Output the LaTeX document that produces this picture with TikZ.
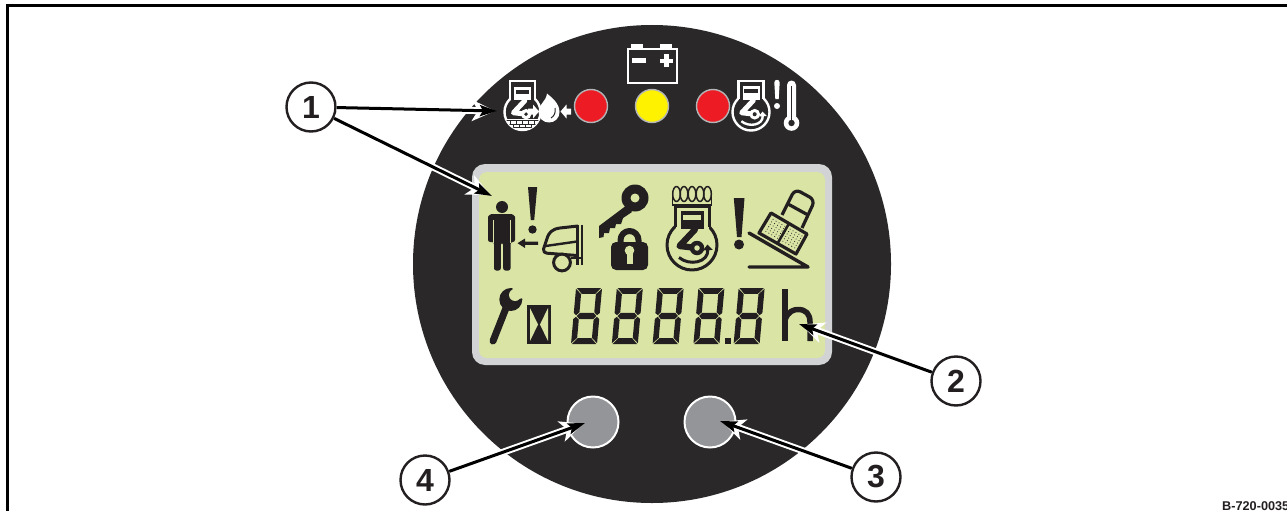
\documentclass[tikz,border=0pt]{standalone}
\usepackage{fontspec}
\setmainfont{Liberation Sans}
\usetikzlibrary{arrows.meta}
\definecolor{ink}{HTML}{231F20}
\definecolor{panel}{HTML}{2A2829}
\definecolor{lcd}{HTML}{DAE5A5}
\definecolor{bezel}{HTML}{D1D3D4}
\definecolor{knob}{HTML}{939598}
\definecolor{ledred}{HTML}{ED1C24}
\definecolor{ledyel}{HTML}{FFF200}
\tikzset{
  callout/.style={circle,draw=ink,line width=2.4pt,fill=white,minimum size=49pt,inner sep=0pt,
    font=\bfseries\fontsize{32}{32}\selectfont,text=ink},
  ledlamp/.style={circle,draw=knob!70,line width=1.4pt,minimum size=33pt,inner sep=0pt},
  knobbtn/.style={circle,draw=white,line width=2pt,fill=knob,minimum size=51pt,inner sep=0pt},
  halo/.style={draw=white,line width=7pt,shorten >=2pt,-{Stealth[length=23pt,width=21pt,inset=6pt,fill=white]}},
  leader/.style={draw=black,line width=3pt,-{Stealth[length=17pt,width=11pt,inset=3pt]}},
}
% engine symbol: centre x, y, radius, foreground, background, neck top, stroke
\newcommand{\enginesym}[7]{%
\begin{scope}[shift={(#1,#2)},x=#3pt,y=-#3pt]
  \draw[#4,line width=#7pt] (0,0) circle[radius=1];
  \fill[#5] (-.66,-#6) rectangle (.66,-.6);
  \draw[#4,line width=#7pt,line join=miter] (-.68,-.72) -- (-.68,-#6) -- (.68,-#6) -- (.68,-.72);
  \fill[#4] (-.46,-1.38) rectangle (.46,-.66);
  \fill[#5] (-.36,-1.22) rectangle (.36,-1.02);
  \draw[#4,line width=2.1*#7 pt,line join=round,line cap=round] (.12,-.62) -- (-.5,.04) -- (.2,.12);
  \fill[#4] (.2,.12) circle[radius=.29];
  \fill[#5] (.2,.12) circle[radius=.11];
\end{scope}}
% rotation arrow within an engine symbol
\newcommand{\rotarrow}[5]{%
\begin{scope}[shift={(#1,#2)},x=#3pt,y=-#3pt]
  \draw[#4,line width=#5pt,-{Triangle[length=0pt 1.9,width=0pt 3.2]}]
     (-.52,.5) .. controls (-.1,.85) and (.66,.7) .. (.62,-.02);
\end{scope}}
% seven segment digit
\newcommand{\segdigit}[1]{%
\begin{scope}[shift={(#1,344)},xslant=.09,x=1pt,y=1pt]
  \fill[ink] (.8,56) -- (25.2,56) -- (19.8,50.2) -- (6.2,50.2) -- cycle;
  \fill[ink] (.8,0) -- (25.2,0) -- (19.8,5.8) -- (6.2,5.8) -- cycle;
  \fill[ink] (6.2,31.2) -- (19.8,31.2) -- (22.8,28) -- (19.8,24.8) -- (6.2,24.8) -- (3.2,28) -- cycle;
  \fill[ink] (0,55.2) -- (5.6,49.8) -- (5.6,31.8) -- (2.6,28.8) -- (0,31) -- cycle;
  \fill[ink] (0,.8) -- (5.6,6.2) -- (5.6,24.2) -- (2.6,27.2) -- (0,25) -- cycle;
  \fill[ink] (26,55.2) -- (20.4,49.8) -- (20.4,31.8) -- (23.4,28.8) -- (26,31) -- cycle;
  \fill[ink] (26,.8) -- (20.4,6.2) -- (20.4,24.2) -- (23.4,27.2) -- (26,25) -- cycle;
\end{scope}}
\begin{document}
\begin{tikzpicture}[x=1pt,y=-1pt,line join=round]
\useasboundingbox (0,0) rectangle (1287,511);
\fill[white] (0,0) rectangle (1287,511);
% frame
\draw[black,line width=3pt,line join=miter] (7,511) -- (7,6) -- (1287,6);
\node[anchor=base west,inner sep=0pt,font=\bfseries\fontsize{12.7}{13}\selectfont,text=ink] (code) at (1222,510) {B-720-0035};
% panel
\fill[panel] (652,264) circle[radius=239];
% battery
\fill[white] (631,44) rectangle (643,50);
\fill[white] (660,44) rectangle (672,50);
\draw[white,line width=2pt,line join=miter] (627.5,49.5) rectangle (677,82.5);
\fill[white] (632,58) rectangle (646,63);
\fill[white] (660,58.8) rectangle (672.5,63.2);
\fill[white] (664,54.5) rectangle (668.5,67.5);
% lamps
\node[ledlamp,fill=ledred] (ledA) at (591,106) {};
\node[ledlamp,fill=ledyel] (ledB) at (652,106) {};
\node[ledlamp,fill=ledred] (ledC) at (713,106) {};
% oil engine
\enginesym{522.5}{112}{18}{white}{panel}{1.72}{2.4}
\begin{scope}
  \clip (522.5,112) circle[radius=18];
  \fill[white] (503,118.5) rectangle (542,131);
  \foreach \yy in {120.5,124,127.5}{\draw[panel,line width=.8pt] (503,\yy) -- (542,\yy);}
  \foreach \xx in {510,516,522,528,534}{\draw[panel,line width=.8pt] (\xx,120.5) -- (\xx,124);}
  \foreach \xx in {513,519,525,531}{\draw[panel,line width=.8pt] (\xx,124) -- (\xx,127.5);}
\end{scope}
\fill[white] (528,108.5) -- (533,108.5) -- (533,104.5) -- (539,111.5) -- (533,118.5) -- (533,114.5) -- (528,114.5) -- cycle;
% drop
\fill[white] (547,93.5) .. controls (551,97) and (559.5,103) .. (559.5,112)
   .. controls (559.5,118.5) and (554.5,122.5) .. (549,122.5)
   .. controls (543,122.5) and (538.5,118) .. (538.5,112)
   .. controls (538.5,104) and (546,102) .. (547,93.5) -- cycle;
\draw[panel,line width=1pt] (555,108) .. controls (556,113) and (554,116) .. (551,118);
\fill[white] (571,108.5) -- (566.5,108.5) -- (566.5,104.5) -- (560.5,111.5) -- (566.5,118.5) -- (566.5,114.5) -- (571,114.5) -- cycle;
% hot engine
\enginesym{751}{112}{18.5}{white}{panel}{1.68}{2.4}
\rotarrow{751}{112}{18.5}{white}{2.4}
\fill[white] (774.3,82.5) .. controls (774.3,79) and (779.7,79) .. (779.7,82.5) -- (778.7,99) -- (775.3,99) -- cycle;
\fill[white] (777,106) circle[radius=3];
\fill[white] (787,85) arc[start angle=180,end angle=360,radius=4.5] -- (796,118) -- (787,118) -- cycle;
\fill[white] (791.5,123) circle[radius=7.8];
\fill[panel] (791.5,123) circle[radius=3.2];
\draw[panel,line width=.9pt] (791.5,86) -- (791.5,120);
% display
\fill[bezel,rounded corners=13pt] (472,164) rectangle (832,365);
\fill[lcd,rounded corners=8pt] (479,172) rectangle (825,358);
% person
\fill[ink] (502,207) circle[radius=6];
\fill[ink,rounded corners=2.2pt] (488,219) .. controls (488,215.5) and (491,214) .. (494,214) -- (509,214)
  .. controls (512,214) and (515,215.5) .. (515,219) -- (515,242) -- (510.5,242) -- (510.5,270.5) -- (503.2,270.5) -- (503.2,243) -- (500.8,243)
  -- (500.8,270.5) -- (494,270.5) -- (494,242) -- (488,242) -- cycle;
\draw[lcd,line width=.9pt] (493.2,220) -- (493.2,243);
\draw[lcd,line width=.9pt] (510.4,220) -- (510.4,243);
% exclamation 1
\fill[ink] (528,187) -- (537.2,187) -- (534.2,220) -- (530.8,220) -- cycle;
\fill[ink] (532.5,229.5) circle[radius=4.2];
% small arrow
\fill[ink] (538,241.6) -- (525,241.6) -- (525,238.5) -- (517.5,243.2) -- (525,248) -- (525,244.9) -- (538,244.9) -- cycle;
% vehicle
\draw[ink,line width=3pt] (578,226) -- (560,228) .. controls (552,229) and (549,233) .. (547.5,237) -- (543.5,249)
   .. controls (543,252) and (545,253) .. (547,253.2) -- (577,255.5);
\draw[ink,line width=2.4pt] (545.5,246) -- (577,241.5);
\draw[ink,line width=3pt,fill=lcd] (562,262.5) circle[radius=8.4];
\draw[ink,line width=2.6pt] (577.5,225) -- (577.5,265);
\draw[ink,line width=2.6pt] (582,225) -- (582,265);
\draw[ink,line width=2.4pt] (571,258) -- (582,258);
% key
\fill[ink] (635,198) circle[radius=13.5];
\fill[ink] (627,205) -- (599,226) -- (599,238) -- (603.5,237) -- (604,233) -- (609,233) -- (610,228) -- (615,228) -- (616,224) -- (621,224) -- (623,218) -- (632,212) -- cycle;
\fill[lcd] (635,198) circle[radius=4.5];
% lock
\draw[lcd,line width=12pt] (620.5,245) -- (620.5,240) arc[start angle=180,end angle=360,radius=9] -- (638.5,245);
\draw[ink,line width=6pt] (620.5,245) -- (620.5,240) arc[start angle=180,end angle=360,radius=9] -- (638.5,245);
\fill[ink,rounded corners=5pt] (611,242) rectangle (648,270);
\fill[lcd] (629.5,250.5) circle[radius=4.8];
\fill[lcd] (626.5,251) rectangle (632.5,263.5);
% glow engine
\enginesym{692}{245}{25}{ink}{lcd}{1.56}{3}
\rotarrow{692}{245}{25}{ink}{3}
\draw[ink,line width=1.8pt] (672,205) -- (712,205);
\draw[ink,line width=1.8pt] (672.5,205) -- (672.5,193);
\draw[ink,line width=1.8pt] (711.5,205) -- (711.5,193);
\foreach \xx in {676.5,684,692,700,707.5}{\draw[ink,line width=1.5pt] (\xx,194) ellipse[x radius=3.8,y radius=7.5];}
% exclamation 2
\fill[ink] (733.8,198) -- (744.5,198) -- (741.5,237) -- (737,237) -- cycle;
\fill[ink] (739,244.5) circle[radius=5];
% tilted seat
\draw[ink,line width=3.4pt,line cap=round] (749,233) -- (808,267) -- (749,267);
\draw[ink,line width=3.2pt,rounded corners=6pt] (782,215) -- (795,189) -- (815,200) -- (802,228);
\draw[ink,line width=3.2pt] (788,204) -- (808,215);
\draw[ink,line width=3.2pt,fill=lcd] (771,213) -- (807,234) -- (796,254) -- (759,233) -- cycle;
\draw[ink,line width=2.6pt] (789,223.5) -- (777.5,243.5);
\foreach \aa in {.12,.2,.28,.36,.44,.58,.66,.74,.82,.9}{\foreach \bb in {.2,.32,.44,.56,.68,.8}{
  \fill[ink] ({759+\aa*37+\bb*12},{233+\aa*21-\bb*20}) circle[radius=.55];}}
% wrench
\draw[ink,line width=7pt,line cap=round] (493,341) -- (508,303);
\fill[ink] (510.8,299.5) circle[radius=11.5];
\fill[lcd] (515,295) circle[radius=6];
\fill[lcd] (513,293) -- (512,283) -- (527,286) -- (525,298) -- (517,299) -- cycle;
% hourglass
\fill[ink] (527,305) rectangle (551,343.5);
\fill[lcd] (530,308) -- (530,341) -- (538,324.5) -- cycle;
\fill[lcd] (548,308) -- (548,341) -- (540,324.5) -- cycle;
% digits
\foreach \dx in {571,611.8,652.6,693.4,733.6}{\segdigit{\dx}}
\fill[ink] (725,338) rectangle (731,344);
% h
\draw[ink,line width=6pt] (785,289) -- (785,341);
\draw[ink,line width=5.5pt] (785,320) .. controls (788,311) and (794,309.5) .. (798,309.5) .. controls (806,309.5) and (810,314) .. (810,322) -- (810,341);
% knobs
\node[knobbtn] (knobL) at (593,422) {};
\node[knobbtn] (knobR) at (710,422) {};
% callouts
\node[callout] (n1) at (311,107) {1};
\node[callout] (n2) at (956,381) {2};
\node[callout] (n3) at (876,477) {3};
\node[callout] (n4) at (425,480) {4};
\coordinate (tipA) at (497,111);
\coordinate (tipB) at (492,196);
\coordinate (tipC) at (799,324);
\coordinate (tipD) at (720,421);
\coordinate (tipE) at (585,423);
\foreach \startn/\tipn in {n1/tipA,n1/tipB,n2/tipC,n3/tipD,n4/tipE}{
  \path[halo] (\startn) -- (\tipn);}
\foreach \startn/\tipn in {n1/tipA,n1/tipB,n2/tipC,n3/tipD,n4/tipE}{
  \path[leader] (\startn) -- (\tipn);}
\end{tikzpicture}
\end{document}
